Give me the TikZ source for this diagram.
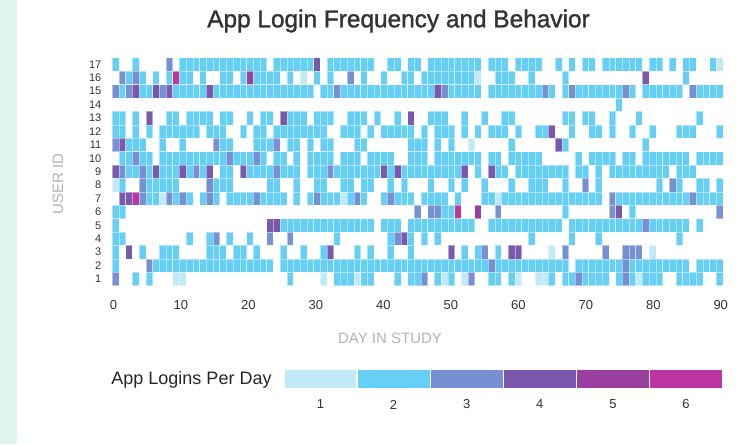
\documentclass[tikz,border=0pt]{standalone}
\usepackage{fontspec}
\setmainfont{Liberation Sans}
\newfontfamily\titlefont[FakeBold=1.3]{Liberation Sans}

% login-count scale
\definecolor{lvcA}{HTML}{C1EAF6}
\definecolor{lvcB}{HTML}{66CFF5}
\definecolor{lvcC}{HTML}{7790D3}
\definecolor{lvcD}{HTML}{7A58AE}
\definecolor{lvcE}{HTML}{9A3F9F}
\definecolor{lvcF}{HTML}{BC35A0}
\definecolor{stripmint}{HTML}{E0F5EC}
\definecolor{inkdark}{HTML}{333333}
\definecolor{inkgray}{HTML}{B3B3B3}

\tikzset{
  cellbase/.style={draw=white, draw opacity=0.45, line width=0.5pt},
  lv1/.style={cellbase, fill=lvcA},
  lv2/.style={cellbase, fill=lvcB},
  lv3/.style={cellbase, fill=lvcC},
  lv4/.style={cellbase, fill=lvcD},
  lv5/.style={cellbase, fill=lvcE},
  lv6/.style={cellbase, fill=lvcF},
  rowlab/.style={anchor=east, inner sep=0pt, text=inkdark, font=\fontsize{11}{13}\selectfont},
  ticklab/.style={inner sep=0pt, text=inkdark, font=\fontsize{13}{15}\selectfont},
  axistitle/.style={inner sep=0pt, text=inkgray, font=\fontsize{15}{18}\selectfont},
  legnum/.style={inner sep=0pt, text=inkdark, font=\fontsize{13}{15}\selectfont}
}

% one heat-map row: #1 = user id, #2 = one digit (0-6) per day, spaces ignored
\newcount\hmcol
\newcommand\hmrow[2]{%
  \pgfmathsetmacro\hmtop{57.7+13.41*(17-#1)}%
  \hmcol=0 \hmscan#2\relax}
\def\hmscan#1{\ifx#1\relax\else\hmcell{#1}\advance\hmcol by 1\relax\expandafter\hmscan\fi}
\def\hmcell#1{\ifnum#1>0 \fill[lv#1] ({112.3+6.71*\the\hmcol},\hmtop) rectangle ++(6.71,13.41);\fi}

\begin{document}
\begin{tikzpicture}[x=1pt,y=-1pt]
\useasboundingbox (0,0) rectangle (751,444);
\fill[white] (0,0) rectangle (751,444);
\fill[stripmint] (0,0) rectangle (16.5,444);

% title
\node[inner sep=0pt, text=inkdark, font=\titlefont\fontsize{24.4}{29}\selectfont] (title) at (398.5,21) {App Login Frequency and Behavior};

% heat map, days 0-90 in groups of ten
\hmrow{17}{2002000030 2222222222 2220222222 4022222220 0220220222 2222202220 2222002020 2202222220 2202022002 1}
\hmrow{16}{0323202026 2202002202 5222202010 2020030200 2002202222 2222100222 0020000200 0000000004 0000020000 0}
\hmrow{15}{3234224342 2222422222 2222222222 0223222222 2222222243 2222202222 2222320232 2222223202 2222203222 2}
\hmrow{14}{0000000000 0000000000 0000000000 0000000000 0000000000 0000000000 0000000000 0000020000 0000000000 0}
\hmrow{13}{2202040022 0222202200 2022042220 2220022202 0020400222 0020020022 0000000220 2200200020 0000000200 0}
\hmrow{12}{2202020222 2220222002 0220222222 2200222020 2222202022 2020202220 2002240020 0220200200 2000222000 2}
\hmrow{11}{3422200200 2000032200 0222302202 0220002200 0000222020 2001000002 0000004200 0000000002 0000000000 0}
\hmrow{10}{0223220222 2222222322 2320220202 2220222022 2200222022 2222202202 2222000002 0222202202 2222220222 2}
\hmrow{9}{4322324222 4232402204 2222322202 2232222222 4242222222 2240204220 2222222202 2020222222 2220222000 0}
\hmrow{8}{1200322222 0000322200 0002200200 2200220220 0202000200 2020020002 0022200200 3020000000 0203200220 2}
\hmrow{7}{0446322132 3202320222 2322220202 3222123200 2322202222 0200022122 2222222222 2220322222 2222223222 2}
\hmrow{6}{2200000000 0000000000 0000000000 0000000000 0000030332 2600500300 0000000200 0000340200 0000000000 3}
\hmrow{5}{2000000000 0000000000 0004422222 2222222220 2220222222 2222002222 2222222022 2222222223 2222220200 0}
\hmrow{4}{2200000000 0200230200 2003003000 0002000000 0234202020 0000000000 0020000020 0020000000 0000200000 0}
\hmrow{3}{2040200222 0000222022 0200020020 0240002020 0200200000 4020230204 4000010300 0003003330 1000000000 0}
\hmrow{2}{2000032222 2222222222 2222022222 2222222222 2222222222 2222223222 2222222202 2222223222 2222220222 2}
\hmrow{1}{3002020001 1000000000 0000002000 0102221220 0020223021 2013002202 1001120223 2222023212 2200222200 2}

% user ids
\foreach \r in {1,...,17}{
  \node[rowlab] (r\r) at (101.5,{57.7+13.41*(17-\r)+6.7}) {\r};
}
\node[axistitle, rotate=90] (ylab) at (58,184) {USER ID};

% day ticks
\foreach \d in {0,10,...,90}{
  \node[ticklab] (t\d) at ({113.5+6.747*\d},305) {\d};
}
\node[axistitle] (xlab) at (390,338) {DAY IN STUDY};

% legend
\node[inner sep=0pt, text=black!85, font=\fontsize{18}{22}\selectfont] (legtitle) at (191.5,380) {App Logins Per Day};
\foreach \k in {1,...,6}{
  \fill[lv\k, draw=none] ({284.7+73.1*(\k-1)},370) rectangle ++(71.7,17.7);
  \node[legnum] (n\k) at ({284.7+73.1*(\k-1)+35.8},404.5) {\k};
}
\end{tikzpicture}
\end{document}
